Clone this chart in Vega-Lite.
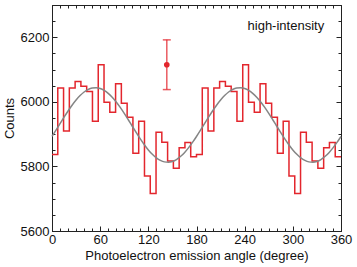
{
  "$schema": "https://vega.github.io/schema/vega-lite/v6.json",
  "width": 289,
  "height": 226,
  "autosize": "none",
  "padding": {"left": 52, "top": 5, "right": 16, "bottom": 36},
  "config": {
    "view": {"stroke": null},
    "font": "Liberation Sans",
    "axis": {"domainColor": "#222", "tickColor": "#222", "labelColor": "#111", "titleColor": "#111", "labelFontSize": 13, "titleFontSize": 13, "titleFontWeight": "normal", "grid": false, "labelFont": "Liberation Sans", "titleFont": "Liberation Sans"}
  },
  "datasets": {
    "hist": [
      {"a": 0, "c": 5837}, {"a": 7.2, "c": 6043}, {"a": 14.4, "c": 5910}, {"a": 21.6, "c": 6043}, {"a": 28.8, "c": 6063},
      {"a": 36, "c": 6048}, {"a": 43.2, "c": 6032}, {"a": 50.4, "c": 5940}, {"a": 57.6, "c": 6115}, {"a": 64.8, "c": 5999},
      {"a": 72, "c": 5968}, {"a": 79.2, "c": 6056}, {"a": 86.4, "c": 5996}, {"a": 93.6, "c": 5952}, {"a": 100.8, "c": 5841},
      {"a": 108, "c": 5940}, {"a": 115.2, "c": 5770}, {"a": 122.4, "c": 5716}, {"a": 129.6, "c": 5906}, {"a": 136.8, "c": 5875},
      {"a": 144, "c": 5817}, {"a": 151.2, "c": 5794}, {"a": 158.4, "c": 5858}, {"a": 165.6, "c": 5874}, {"a": 172.8, "c": 5830},
      {"a": 180, "c": 5837}, {"a": 187.2, "c": 6043}, {"a": 194.4, "c": 5910}, {"a": 201.6, "c": 6043}, {"a": 208.8, "c": 6063},
      {"a": 216, "c": 6048}, {"a": 223.2, "c": 6032}, {"a": 230.4, "c": 5940}, {"a": 237.6, "c": 6115}, {"a": 244.8, "c": 5999},
      {"a": 252, "c": 5968}, {"a": 259.2, "c": 6056}, {"a": 266.4, "c": 5996}, {"a": 273.6, "c": 5952}, {"a": 280.8, "c": 5841},
      {"a": 288, "c": 5940}, {"a": 295.2, "c": 5770}, {"a": 302.4, "c": 5716}, {"a": 309.6, "c": 5906}, {"a": 316.8, "c": 5875},
      {"a": 324, "c": 5817}, {"a": 331.2, "c": 5794}, {"a": 338.4, "c": 5858}, {"a": 345.6, "c": 5874}, {"a": 352.8, "c": 5830},
      {"a": 360, "c": 5830}
    ],
    "fit": [
      {"a": 0, "c": 5892.8}, {"a": 5, "c": 5912.4}, {"a": 10, "c": 5932.5}, {"a": 15, "c": 5952.5}, {"a": 20, "c": 5971.8},
      {"a": 25, "c": 5989.7}, {"a": 30, "c": 6005.8}, {"a": 35, "c": 6019.5}, {"a": 40, "c": 6030.5}, {"a": 45, "c": 6038.4},
      {"a": 50, "c": 6042.9}, {"a": 55, "c": 6043.9}, {"a": 60, "c": 6041.5}, {"a": 65, "c": 6035.6}, {"a": 70, "c": 6026.4},
      {"a": 75, "c": 6014.3}, {"a": 80, "c": 5999.6}, {"a": 85, "c": 5982.7}, {"a": 90, "c": 5964.2}, {"a": 95, "c": 5944.6},
      {"a": 100, "c": 5924.5}, {"a": 105, "c": 5904.5}, {"a": 110, "c": 5885.2}, {"a": 115, "c": 5867.3}, {"a": 120, "c": 5851.2},
      {"a": 125, "c": 5837.5}, {"a": 130, "c": 5826.5}, {"a": 135, "c": 5818.6}, {"a": 140, "c": 5814.1}, {"a": 145, "c": 5813.1},
      {"a": 150, "c": 5815.5}, {"a": 155, "c": 5821.4}, {"a": 160, "c": 5830.6}, {"a": 165, "c": 5842.7}, {"a": 170, "c": 5857.4},
      {"a": 175, "c": 5874.3}, {"a": 180, "c": 5892.8}, {"a": 185, "c": 5912.4}, {"a": 190, "c": 5932.5}, {"a": 195, "c": 5952.5},
      {"a": 200, "c": 5971.8}, {"a": 205, "c": 5989.7}, {"a": 210, "c": 6005.8}, {"a": 215, "c": 6019.5}, {"a": 220, "c": 6030.5},
      {"a": 225, "c": 6038.4}, {"a": 230, "c": 6042.9}, {"a": 235, "c": 6043.9}, {"a": 240, "c": 6041.5}, {"a": 245, "c": 6035.6},
      {"a": 250, "c": 6026.4}, {"a": 255, "c": 6014.3}, {"a": 260, "c": 5999.6}, {"a": 265, "c": 5982.7}, {"a": 270, "c": 5964.2},
      {"a": 275, "c": 5944.6}, {"a": 280, "c": 5924.5}, {"a": 285, "c": 5904.5}, {"a": 290, "c": 5885.2}, {"a": 295, "c": 5867.3},
      {"a": 300, "c": 5851.2}, {"a": 305, "c": 5837.5}, {"a": 310, "c": 5826.5}, {"a": 315, "c": 5818.6}, {"a": 320, "c": 5814.1},
      {"a": 325, "c": 5813.1}, {"a": 330, "c": 5815.5}, {"a": 335, "c": 5821.4}, {"a": 340, "c": 5830.6}, {"a": 345, "c": 5842.7},
      {"a": 350, "c": 5857.4}, {"a": 355, "c": 5874.3}, {"a": 360, "c": 5892.8}
    ],
    "pt": [{"a": 143, "c": 6115, "lo": 6038, "hi": 6192}],
    "lab": [{"a": 339, "c": 6236, "t": "high-intensity"}]
  },
  "resolve": {"axis": {"x": "independent", "y": "independent"}},
  "layer": [
    {
      "data": {"name": "hist"},
      "mark": {"type": "line", "interpolate": "step-after", "color": "#e3262d", "strokeWidth": 1.5, "clip": true},
      "encoding": {
        "x": {"field": "a", "type": "quantitative", "scale": {"domain": [0, 360], "nice": false},
          "axis": {"orient": "bottom", "values": [0, 60, 120, 180, 240, 300, 360], "ticks": false, "labelPadding": 2, "labelFlush": false, "title": "Photoelectron emission angle (degree)", "titlePadding": 3}},
        "y": {"field": "c", "type": "quantitative", "scale": {"domain": [5600, 6300], "nice": false, "zero": false},
          "axis": {"orient": "left", "values": [5600, 5800, 6000, 6200], "format": "d", "ticks": false, "labelPadding": 3, "labelFlush": false, "title": "Counts", "titlePadding": 4}}
      }
    },
    {
      "data": {"name": "fit"},
      "mark": {"type": "line", "interpolate": "monotone", "color": "#858585", "strokeWidth": 1.5},
      "encoding": {
        "x": {"field": "a", "type": "quantitative",
          "axis": {"orient": "bottom", "values": [0,10,20,30,40,50,60,70,80,90,100,110,120,130,140,150,160,170,180,190,200,210,220,230,240,250,260,270,280,290,300,310,320,330,340,350,360], "tickSize": -3, "labels": false, "domain": false, "title": null}},
        "y": {"field": "c", "type": "quantitative",
          "axis": {"orient": "left", "values": [5600,5650,5700,5750,5800,5850,5900,5950,6000,6050,6100,6150,6200,6250,6300], "tickSize": -3, "labels": false, "domain": false, "title": null}}
      }
    },
    {
      "data": {"name": "pt"},
      "mark": {"type": "rule", "color": "#e3262d", "opacity": 0.75, "strokeWidth": 1.5},
      "encoding": {
        "x": {"field": "a", "type": "quantitative",
          "axis": {"orient": "top", "values": [0,10,20,30,40,50,60,70,80,90,100,110,120,130,140,150,160,170,180,190,200,210,220,230,240,250,260,270,280,290,300,310,320,330,340,350,360], "tickSize": -3, "labels": false, "domain": true, "title": null}},
        "y": {"field": "lo", "type": "quantitative",
          "axis": {"orient": "right", "values": [5600,5650,5700,5750,5800,5850,5900,5950,6000,6050,6100,6150,6200,6250,6300], "tickSize": -3, "labels": false, "domain": true, "title": null}},
        "y2": {"field": "hi"}
      }
    },
    {
      "data": {"name": "pt"},
      "mark": {"type": "tick", "orient": "horizontal", "color": "#e3262d", "opacity": 0.75, "size": 8, "thickness": 1.5},
      "encoding": {
        "x": {"field": "a", "type": "quantitative",
          "axis": {"orient": "bottom", "values": [0, 60, 120, 180, 240, 300, 360], "tickSize": -5, "labels": false, "domain": false, "title": null}},
        "y": {"field": "lo", "type": "quantitative",
          "axis": {"orient": "right", "values": [5600, 5800, 6000, 6200], "tickSize": -5, "labels": false, "domain": false, "title": null}}
      }
    },
    {
      "data": {"name": "pt"},
      "mark": {"type": "tick", "orient": "horizontal", "color": "#e3262d", "opacity": 0.75, "size": 8, "thickness": 1.5},
      "encoding": {
        "x": {"field": "a", "type": "quantitative",
          "axis": {"orient": "top", "values": [0, 60, 120, 180, 240, 300, 360], "tickSize": -3, "labels": false, "domain": false, "title": null}},
        "y": {"field": "hi", "type": "quantitative",
          "axis": {"orient": "left", "values": [5600, 5800, 6000, 6200], "tickSize": -5, "labels": false, "domain": true, "title": null}}
      }
    },
    {
      "data": {"name": "pt"},
      "mark": {"type": "circle", "color": "#e3262d", "opacity": 1, "size": 32},
      "encoding": {
        "x": {"field": "a", "type": "quantitative", "axis": null},
        "y": {"field": "c", "type": "quantitative", "axis": null}
      }
    },
    {
      "data": {"name": "lab"},
      "mark": {"type": "text", "align": "right", "baseline": "middle", "fontSize": 13, "font": "Liberation Sans", "color": "#111"},
      "encoding": {
        "x": {"field": "a", "type": "quantitative", "axis": null},
        "y": {"field": "c", "type": "quantitative", "axis": null},
        "text": {"field": "t"}
      }
    }
  ]
}
